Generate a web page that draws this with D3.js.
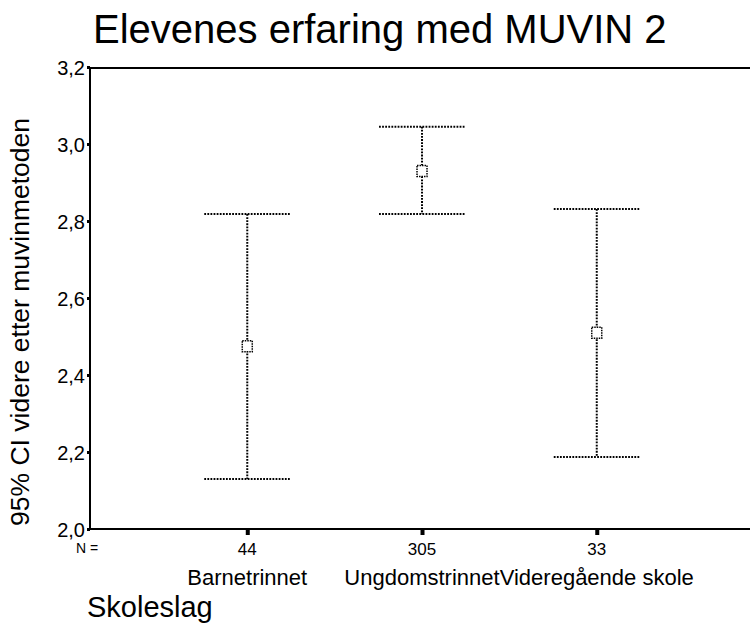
<!DOCTYPE html>
<html><head><meta charset="utf-8">
<script src="https://cdn.jsdelivr.net/npm/d3@7/dist/d3.min.js"></script>
<style>body{margin:0;background:#fff}svg{display:block}text{font-family:"Liberation Sans",Arial,sans-serif;fill:#000}</style>
</head><body><svg id="c" width="750" height="627"></svg>
<script>
const categories = ["Barnetrinnet", "Ungdomstrinnet", "Videregående skole"];
const counts = ["44", "305", "33"];
const means = [2.475, 2.93, 2.51];
const lower = [2.13, 2.818, 2.187];
const upper = [2.818, 3.045, 2.831];
const yTicks = [2.0, 2.2, 2.4, 2.6, 2.8, 3.0, 3.2];
const title = "Elevenes erfaring med MUVIN 2";
const yTitle = "95% CI videre etter muvinmetoden";
const xTitle = "Skoleslag";

const svg = d3.select("#c");
const x = d3.scaleLinear().domain([0.1, 4.0]).range([90, 771.5]);
const y = d3.scaleLinear().domain([2.0, 3.2]).range([529, 67]);
const fmt = d => d3.format(".1f")(d).replace(".", ",");

// frame lines
svg.append("line").attr("x1", 90).attr("x2", 750).attr("y1", y(3.2)+1).attr("y2", y(3.2)+1).attr("stroke", "#000").attr("stroke-width", 2);
svg.append("line").attr("x1", 90).attr("x2", 750).attr("y1", y(2.0)).attr("y2", y(2.0)).attr("stroke", "#000").attr("stroke-width", 2);
svg.append("line").attr("x1", 90).attr("x2", 90).attr("y1", y(3.2)).attr("y2", y(2.0)).attr("stroke", "#000").attr("stroke-width", 2);

// y axis ticks + labels
const yAxis = svg.append("g").attr("transform", "translate(90,0)")
  .call(d3.axisLeft(y).tickValues(yTicks).tickFormat(fmt).tickSize(3).tickPadding(2));
yAxis.select(".domain").remove();
yAxis.selectAll(".tick line").attr("stroke-width", 3);
yAxis.selectAll(".tick text").attr("font-size", 20).attr("font-family", "Liberation Sans, Arial, sans-serif").attr("dy", "0.35em");

// x ticks
const xAxis = svg.append("g").attr("transform", `translate(0,${y(2.0)})`)
  .call(d3.axisBottom(x).tickValues([1, 2, 3]).tickFormat("").tickSize(6));
xAxis.select(".domain").remove();
xAxis.selectAll(".tick line").attr("stroke-width", 4);

const idx = d3.range(categories.length);
const dash = "1.8,1.3";
const g = svg.append("g").attr("fill", "none").attr("stroke", "#000").attr("stroke-width", 2).attr("stroke-dasharray", dash);
const capW = 43;
g.selectAll(".v").data(idx).join("line").attr("x1", i => x(i+1)).attr("x2", i => x(i+1)).attr("y1", i => y(upper[i])).attr("y2", i => y(lower[i]));
g.selectAll(".u").data(idx).join("line").attr("x1", i => x(i+1)-capW).attr("x2", i => x(i+1)+capW).attr("y1", i => y(upper[i])).attr("y2", i => y(upper[i]));
g.selectAll(".l").data(idx).join("line").attr("x1", i => x(i+1)-capW).attr("x2", i => x(i+1)+capW).attr("y1", i => y(lower[i])).attr("y2", i => y(lower[i]));
// mean markers
svg.append("g").selectAll("rect").data(idx).join("rect")
  .attr("x", i => x(i+1)-5).attr("y", i => y(means[i])-5.5).attr("width", 10).attr("height", 11)
  .attr("fill", "#fff").attr("stroke", "#000").attr("stroke-width", 1.5).attr("stroke-dasharray", "1.5,1");

// N labels
svg.append("text").attr("x", 76).attr("y", 553).attr("font-size", 14).text("N =");
svg.append("g").selectAll("text").data(idx).join("text")
  .attr("x", i => x(i+1)).attr("y", 555).attr("text-anchor", "middle").attr("font-size", 17).text(i => counts[i]);
svg.append("g").selectAll("text").data(idx).join("text")
  .attr("x", i => x(i+1)).attr("y", 585).attr("text-anchor", "middle").attr("font-size", 22).text(i => categories[i]);

// titles
svg.append("text").attr("x", 93).attr("y", 43).attr("font-size", 40).text(title);
svg.append("text").attr("transform", `translate(29,322) rotate(-90)`).attr("text-anchor", "middle").attr("font-size", 26.5).text(yTitle);
svg.append("text").attr("x", 87).attr("y", 617).attr("font-size", 29).text(xTitle);
</script></body></html>
